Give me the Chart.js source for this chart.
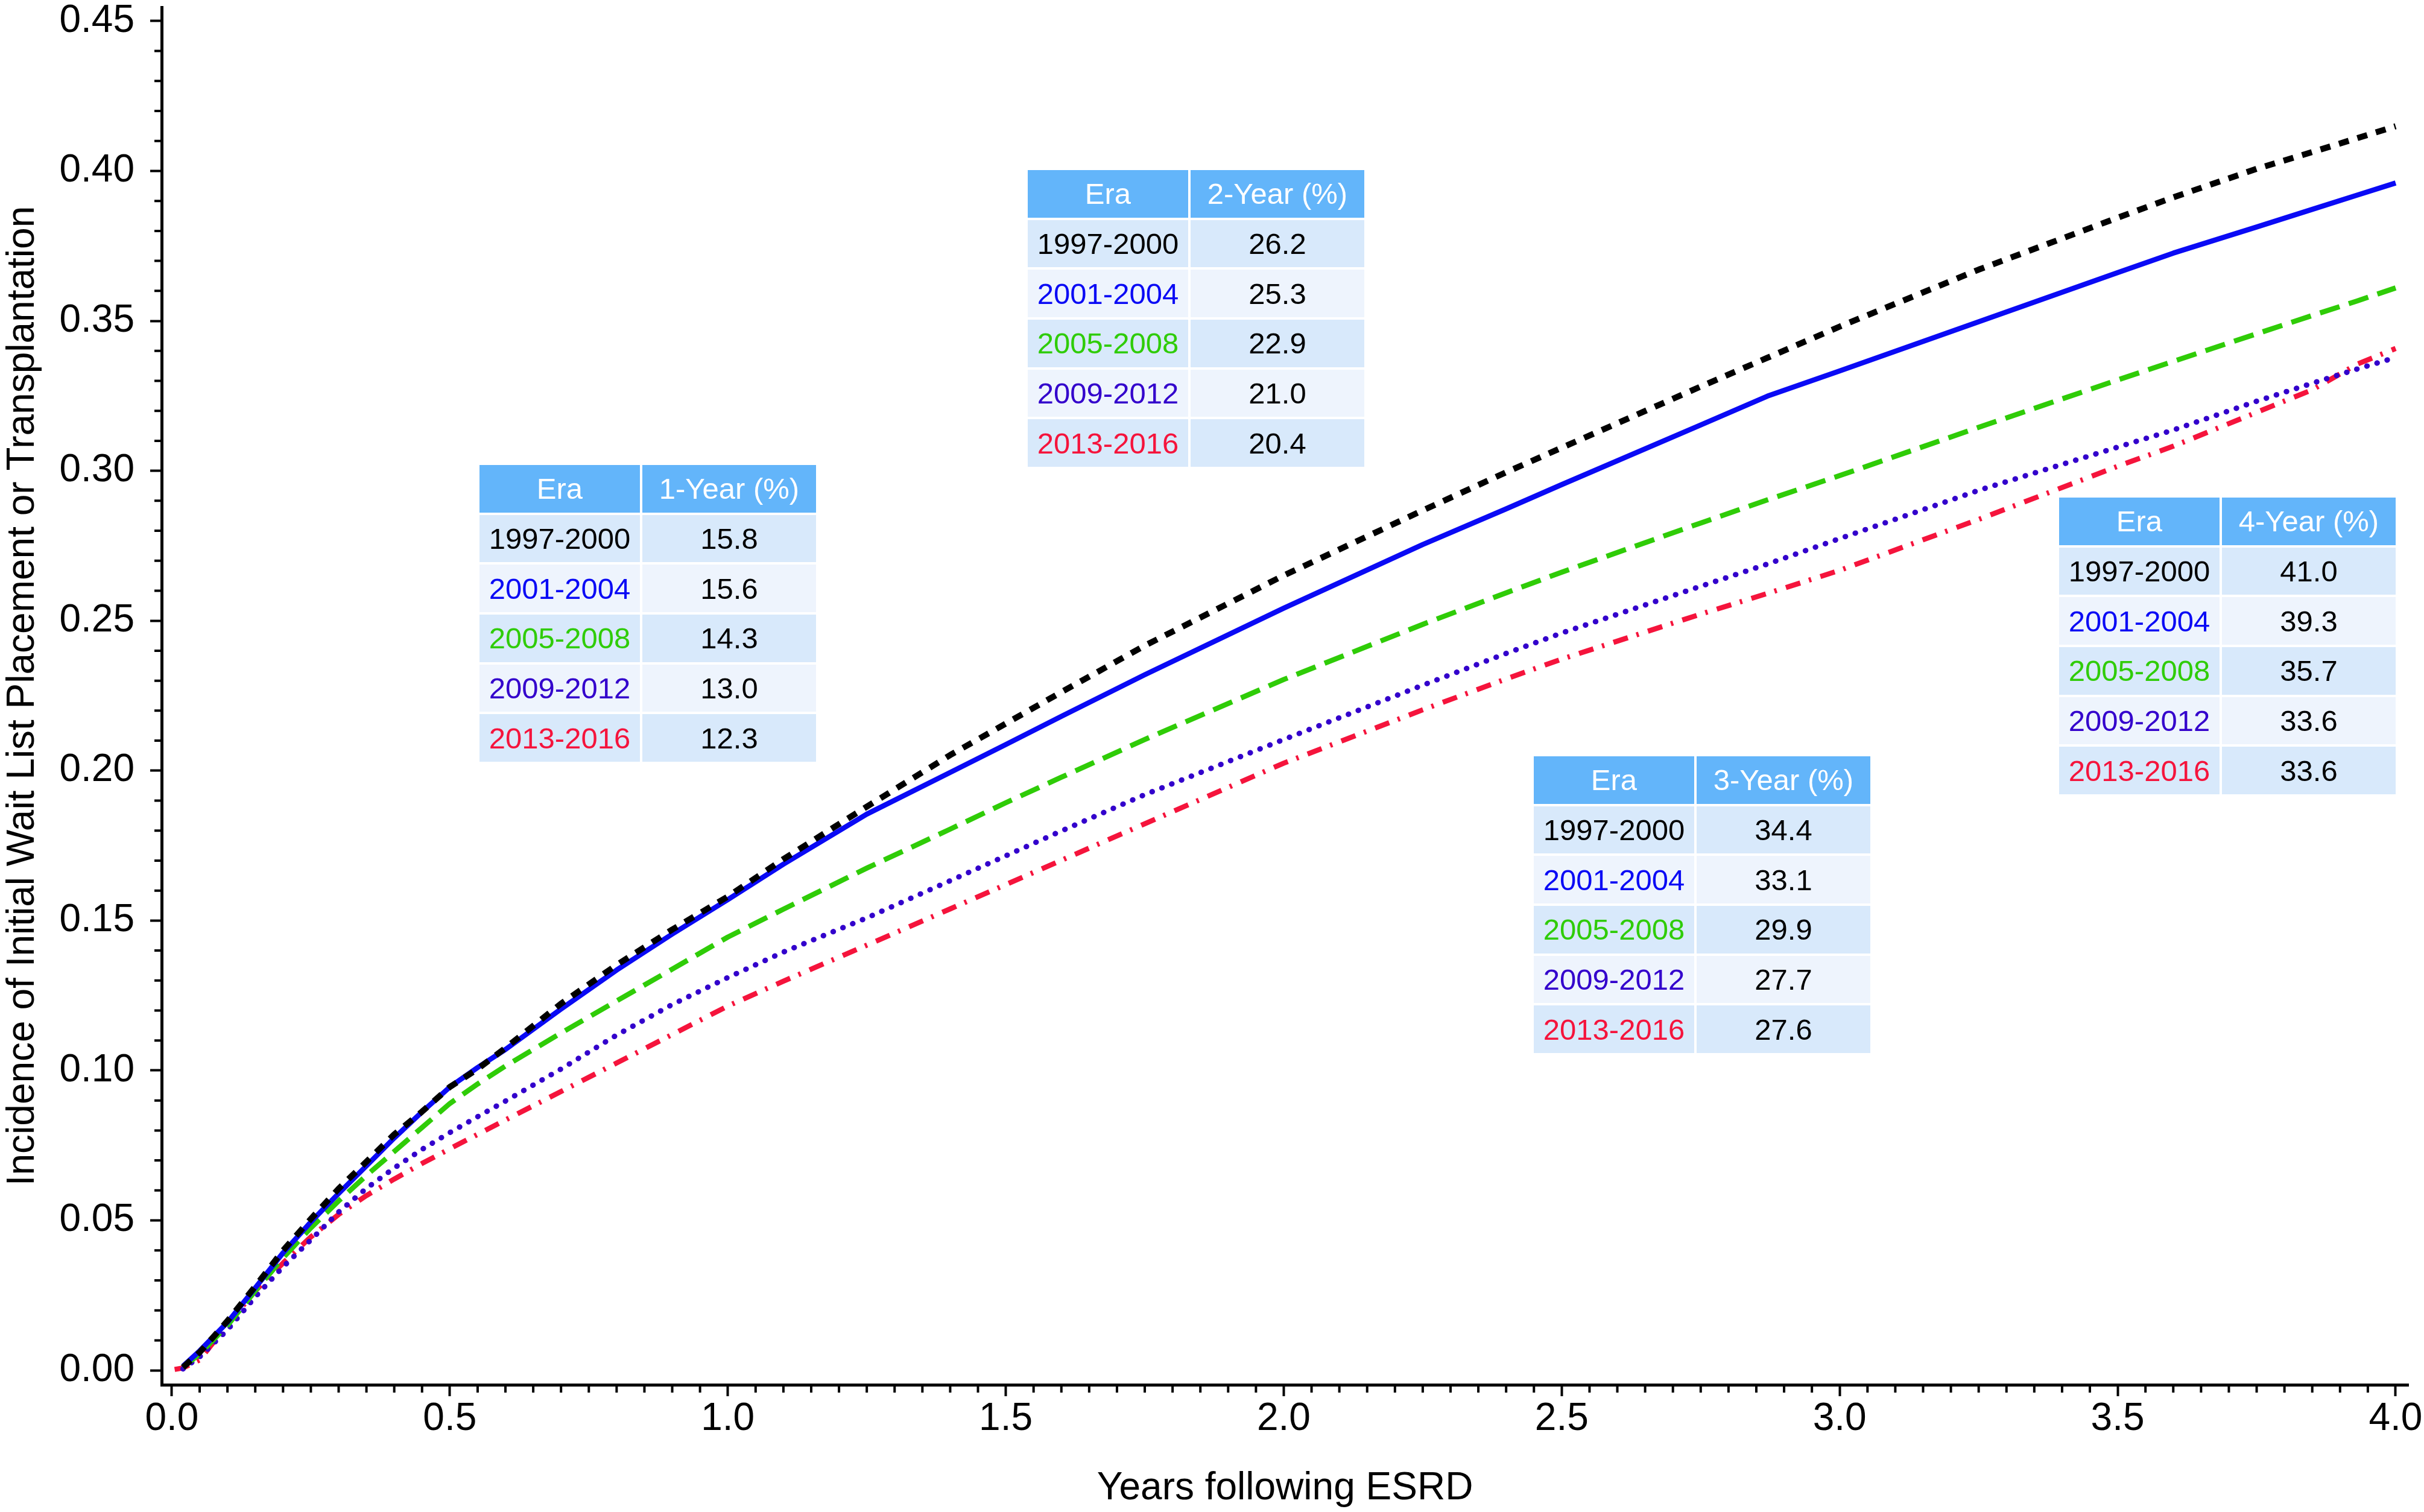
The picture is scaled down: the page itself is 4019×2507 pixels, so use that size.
<!DOCTYPE html>
<html>
<head>
<meta charset="utf-8">
<script src="https://cdn.jsdelivr.net/npm/chart.js@4.4.1/dist/chart.umd.min.js"></script>
<style>
  html, body { margin: 0; padding: 0; background: #fff; }
  #wrap { position: relative; width: 4019px; height: 2507px; overflow: hidden; }
  #chart { position: absolute; left: 0; top: 0; }
  .era-table {
    position: absolute;
    display: grid;
    grid-template-columns: 266px 288px;
    grid-auto-rows: 78.7px;
    gap: 4px;
    font-family: "Liberation Sans", Arial, sans-serif;
    font-size: 49px;
  }
  .era-table div { display: flex; align-items: center; justify-content: center; color: #000; }
  .era-table .head { background: #63b5fa; color: #fff; }
  .era-table .odd { background: #d8e9fb; }
  .era-table .even { background: #eef4fd; }
</style>
</head>
<body>
<div id="wrap"><canvas id="chart" width="4019" height="2507"></canvas></div>
<script>
(function () {
  const FONT = '"Liberation Sans", Arial, sans-serif';

  // time since ESRD (years)
  const years = [0.005, 0.02, 0.05, 0.1, 0.15, 0.2, 0.25, 0.3, 0.35, 0.4, 0.45, 0.5, 0.55, 0.6, 0.7, 0.8, 0.9, 1.0, 1.1, 1.25, 1.4, 1.5, 1.6, 1.75, 2.0, 2.25, 2.4, 2.5, 2.75, 2.87, 3.0, 3.25, 3.5, 3.6, 3.75, 3.85, 3.93, 4.0];

  // cumulative incidence by era
  const era1997 = [null, 0.001, 0.006, 0.0165, 0.028, 0.040, 0.0505, 0.0606, 0.0696, 0.0787, 0.0863, 0.0945, 0.1005, 0.1075, 0.1223, 0.1352, 0.147, 0.158, 0.1705, 0.188, 0.2052, 0.2157, 0.2262, 0.2417, 0.2651, 0.2868, 0.2995, 0.3077, 0.3281, 0.3377, 0.3481, 0.3671, 0.3844, 0.3912, 0.4007, 0.4063, 0.4109, 0.4149];
  const era2001 = [null, 0.0014, 0.0065, 0.016, 0.0275, 0.0392, 0.0495, 0.059, 0.0682, 0.0775, 0.0862, 0.0945, 0.101, 0.107, 0.1205, 0.1335, 0.1455, 0.157, 0.1688, 0.1855, 0.1994, 0.2087, 0.2181, 0.232, 0.2542, 0.2754, 0.2873, 0.2954, 0.3153, 0.3249, 0.3333, 0.3497, 0.3661, 0.3726, 0.3813, 0.3872, 0.3919, 0.396];
  const era2005 = [null, 0.001, 0.0055, 0.015, 0.0265, 0.0375, 0.0475, 0.0565, 0.065, 0.073, 0.081, 0.089, 0.0955, 0.1015, 0.1125, 0.1232, 0.1338, 0.1445, 0.1538, 0.1675, 0.1805, 0.1893, 0.1978, 0.2104, 0.2304, 0.2488, 0.2593, 0.2662, 0.2826, 0.2903, 0.2984, 0.3145, 0.3303, 0.3365, 0.3457, 0.3518, 0.3566, 0.361];
  const era2009 = [null, 0.0005, 0.0045, 0.0135, 0.0245, 0.0345, 0.0435, 0.0528, 0.0607, 0.0675, 0.0737, 0.0793, 0.0846, 0.0898, 0.1005, 0.1118, 0.122, 0.131, 0.1395, 0.1509, 0.1633, 0.1716, 0.1799, 0.192, 0.2104, 0.2285, 0.2391, 0.2459, 0.2615, 0.2689, 0.2774, 0.2935, 0.3079, 0.3136, 0.3232, 0.3292, 0.3339, 0.3378];
  const era2013 = [0.0003, 0.0008, 0.0035, 0.0153, 0.0265, 0.0358, 0.0445, 0.052, 0.0583, 0.0638, 0.069, 0.0739, 0.0787, 0.0835, 0.093, 0.1025, 0.112, 0.1215, 0.1298, 0.1418, 0.1539, 0.162, 0.1701, 0.1823, 0.2025, 0.2203, 0.2306, 0.2372, 0.2522, 0.2591, 0.2668, 0.2838, 0.3015, 0.3082, 0.3195, 0.327, 0.3355, 0.3408];

  const eras = ["1997-2000", "2001-2004", "2005-2008", "2009-2012", "2013-2016"];
  const eraColors = ["#000000", "#0a0af5", "#2fcc07", "#3300cc", "#f5143c"];

  // summary tables
  const periodHeaders = ["1-Year (%)", "2-Year (%)", "3-Year (%)", "4-Year (%)"];
  const oneYear = ["15.8", "15.6", "14.3", "13.0", "12.3"];
  const twoYear = ["26.2", "25.3", "22.9", "21.0", "20.4"];
  const threeYear = ["34.4", "33.1", "29.9", "27.7", "27.6"];
  const fourYear = ["41.0", "39.3", "35.7", "33.6", "33.6"];

  const xTickLabels = ["0.0", "0.5", "1.0", "1.5", "2.0", "2.5", "3.0", "3.5", "4.0"];
  const yTickLabels = ["0.00", "0.05", "0.10", "0.15", "0.20", "0.25", "0.30", "0.35", "0.40", "0.45"];

  const tablePlaces = [
    { left: 795, top: 771 },
    { left: 1704, top: 282 },
    { left: 2543, top: 1254 },
    { left: 3414, top: 825 }
  ];

  const lineStyles = [
    { width: 10, dash: [17, 15], cap: "butt" },
    { width: 8.5, dash: [], cap: "butt" },
    { width: 8.5, dash: [34, 16], cap: "butt" },
    { width: 9, dash: [0.5, 17], cap: "round" },
    { width: 8.5, dash: [25, 15, 4, 16], cap: "butt" }
  ];

  // minor ticks every 0.05 (x) and 0.01 (y)
  const xTickValues = [];
  for (let k = 0; k <= 80; k++) xTickValues.push(k / 20);
  const yTickValues = [];
  for (let k = 0; k <= 45; k++) yTickValues.push(k / 100);
  const isMajorX = (v) => Math.round(v * 20) % 10 === 0;
  const isMajorY = (v) => Math.round(v * 100) % 5 === 0;

  const series = [era1997, era2001, era2005, era2009, era2013];
  const datasets = series.map((values, i) => ({
    label: eras[i],
    data: years.map((x, j) => ({ x, y: values[j] })),
    borderColor: eraColors[i],
    borderWidth: lineStyles[i].width,
    borderDash: lineStyles[i].dash,
    borderCapStyle: lineStyles[i].cap,
    borderJoinStyle: "round",
    pointRadius: 0,
    tension: 0,
    fill: false
  }));

  const minorTicks = {
    id: "minorTicks",
    afterDraw(chart) {
      const { ctx, chartArea, scales } = chart;
      ctx.save();
      ctx.strokeStyle = "#000";
      ctx.lineWidth = 4;
      ctx.beginPath();
      yTickValues.filter((v) => !isMajorY(v)).forEach((v) => {
        const py = scales.y.getPixelForValue(v);
        ctx.moveTo(chartArea.left - 12, py);
        ctx.lineTo(chartArea.left, py);
      });
      xTickValues.filter((v) => !isMajorX(v)).forEach((v) => {
        const px = scales.x.getPixelForValue(v);
        ctx.moveTo(px, chartArea.bottom);
        ctx.lineTo(px, chartArea.bottom + 13);
      });
      ctx.stroke();
      ctx.restore();
    }
  };

  new Chart(document.getElementById("chart"), {
    type: "line",
    data: { datasets },
    plugins: [minorTicks],
    options: {
      responsive: false,
      devicePixelRatio: 1,
      animation: false,
      layout: { padding: { top: 12, right: 26, left: 0, bottom: 0 } },
      plugins: { legend: { display: false }, tooltip: { enabled: false } },
      scales: {
        x: {
          type: "linear",
          min: -0.0184,
          max: 4.0228,
          border: { color: "#000", width: 5 },
          grid: {
            drawOnChartArea: false,
            tickLength: 19,
            tickWidth: 4,
            tickColor: (ctx) => (ctx.tick && isMajorX(ctx.tick.value) ? "#000" : "rgba(0,0,0,0)")
          },
          afterBuildTicks: (scale) => { scale.ticks = xTickValues.map((value) => ({ value })); },
          afterFit: (scale) => { scale.height = 211; scale.paddingLeft = 0; scale.paddingRight = 0; },
          ticks: {
            autoSkip: false,
            maxRotation: 0,
            padding: 0,
            color: "#000",
            font: { family: FONT, size: 64 },
            callback: (value) => (isMajorX(value) ? xTickLabels[Math.round(value * 2)] : "")
          },
          title: {
            display: true,
            text: "Years following ESRD",
            color: "#000",
            font: { family: FONT, size: 64 },
            padding: 0
          }
        },
        y: {
          type: "linear",
          min: -0.0048,
          max: 0.4546,
          border: { color: "#000", width: 5 },
          grid: {
            drawOnChartArea: false,
            tickLength: 19,
            tickWidth: 4,
            tickColor: (ctx) => (ctx.tick && isMajorY(ctx.tick.value) ? "#000" : "rgba(0,0,0,0)")
          },
          afterBuildTicks: (scale) => { scale.ticks = yTickValues.map((value) => ({ value })); },
          afterFit: (scale) => { scale.width = 268; scale.paddingTop = 0; scale.paddingBottom = 0; },
          ticks: {
            autoSkip: false,
            padding: 26,
            color: "#000",
            font: { family: FONT, size: 64 },
            callback: (value) => (isMajorY(value) ? yTickLabels[Math.round(value * 20)] : "")
          },
          title: {
            display: true,
            text: "Incidence of Initial Wait List Placement or Transplantation",
            color: "#000",
            font: { family: FONT, size: 64 },
            padding: 0
          }
        }
      }
    }
  });

  // era tables laid over the plot
  const columns = [oneYear, twoYear, threeYear, fourYear];
  const wrap = document.getElementById("wrap");
  columns.forEach((values, t) => {
    const table = document.createElement("div");
    table.className = "era-table";
    table.style.left = tablePlaces[t].left + "px";
    table.style.top = tablePlaces[t].top + "px";
    let html = `<div class="head">Era</div><div class="head">${periodHeaders[t]}</div>`;
    eras.forEach((era, i) => {
      const shade = i % 2 === 0 ? "odd" : "even";
      html += `<div class="${shade}" style="color:${eraColors[i]}">${era}</div><div class="${shade}">${values[i]}</div>`;
    });
    table.innerHTML = html;
    wrap.appendChild(table);
  });
}());
</script>
</body>
</html>
